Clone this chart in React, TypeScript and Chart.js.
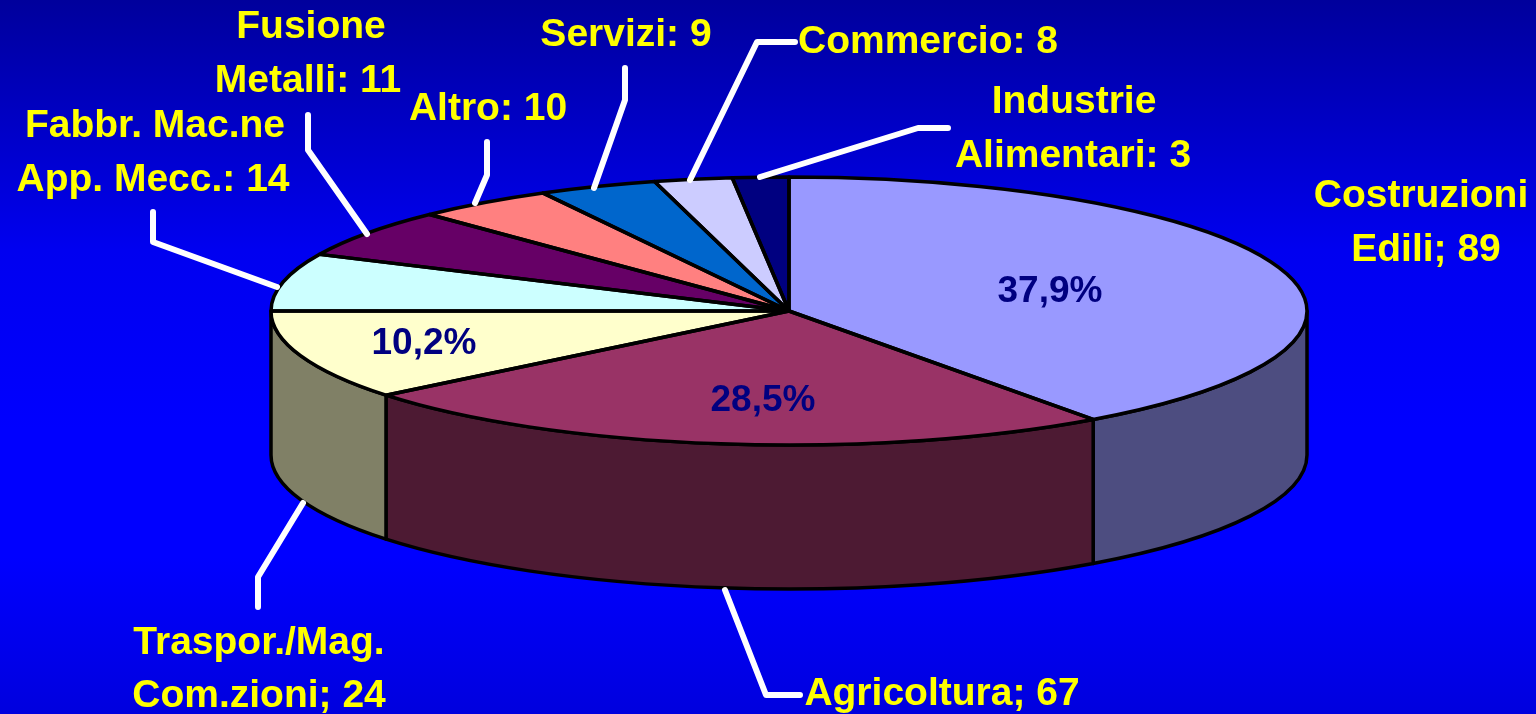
import React, { useEffect, useRef } from "react";
import { Chart, registerables } from "chart.js";

Chart.register(...registerables);

const categories = [
  "Costruzioni Edili",
  "Agricoltura",
  "Traspor./Mag. Com.zioni",
  "Fabbr. Mac.ne App. Mecc.",
  "Fusione Metalli",
  "Altro",
  "Servizi",
  "Commercio",
  "Industrie Alimentari",
];
const values = [89, 67, 24, 14, 11, 10, 9, 8, 3];
const sliceColors = ["#9999FF", "#993366", "#FFFFCC", "#CCFFFF", "#660066", "#FF8080", "#0066CC", "#CCCCFF", "#000080"];
const firstLines = ["Costruzioni", "", "Traspor./Mag.", "Fabbr. Mac.ne", "Fusione", "", "", "", "Industrie"];
const lastLines = ["Edili", "Agricoltura", "Com.zioni", "App. Mecc.", "Metalli", "Altro", "Servizi", "Commercio", "Alimentari"];
const separators = [";", ";", ";", ":", ":", ":", ":", ":", ":"];

// Layout only: where each label sits and how its leader runs.
const labelLayout = [
  { first: [1421, 207], last: [1426, 261] },
  { last: [942, 705] },
  { first: [259, 654], last: [259, 707] },
  { first: [155, 137], last: [153, 191] },
  { first: [311, 38], last: [308, 92] },
  { last: [488, 120] },
  { last: [626, 46] },
  { last: [928, 53] },
  { first: [1074, 113], last: [1073, 167] },
];
const leaderPaths: (number[][] | null)[] = [
  null,
  [[725, 590], [766, 695], [800, 695]],
  [[303, 503], [258, 577], [258, 607]],
  [[277, 287], [153, 242], [153, 212]],
  [[367, 234], [308, 150], [308, 115]],
  [[475, 203], [487, 175], [487, 142]],
  [[594, 188], [625, 100], [625, 68]],
  [[690, 180], [757, 42], [795, 42]],
  [[760, 177], [918, 128], [948, 128]],
];
const percentLayout: Record<number, number[]> = { 0: [1050, 302], 1: [763, 411], 2: [424, 354] };
// Perspective displacement of each slice edge around the rim, in degrees.
const rimShift = [0, 7.7, -7.9, -5.7, -2.2, 2, 2.3, 1.8, -1.7, 0];

const RX = 518;
const RY = 134;
const DEPTH = 144;
const LABEL_FONT = 'bold 39px "Liberation Sans", Arial, sans-serif';
const PERCENT_FONT = 'bold 37px "Liberation Sans", Arial, sans-serif';

const darken = (hex: string) => {
  const n = parseInt(hex.slice(1), 16);
  const c = [(n >> 16) & 255, (n >> 8) & 255, n & 255].map((v) => Math.round(v / 2));
  return `rgb(${c[0]},${c[1]},${c[2]})`;
};

const pie3d = {
  id: "pie3d",
  afterDatasetsUpdate(chart: any) {
    chart.getDatasetMeta(0).data.forEach((el: any, i: number) => {
      const s = el.startAngle + (rimShift[i] * Math.PI) / 180;
      const e = el.endAngle + (rimShift[i + 1] * Math.PI) / 180;
      el.startAngle = s;
      el.endAngle = e;
      el.circumference = e - s;
    });
  },
  beforeDraw(chart: any) {
    const { ctx, width, height } = chart;
    const g = ctx.createLinearGradient(0, 0, 0, height);
    g.addColorStop(0, "#00009C");
    g.addColorStop(0.35, "#0000F0");
    g.addColorStop(0.6, "#0000FF");
    g.addColorStop(0.78, "#0000FF");
    g.addColorStop(1, "#0000DE");
    ctx.fillStyle = g;
    ctx.fillRect(0, 0, width, height);
  },
  beforeDatasetsDraw(chart: any) {
    const { ctx } = chart;
    const arcs = chart.getDatasetMeta(0).data;
    ctx.save();
    ctx.lineWidth = 3.5;
    ctx.strokeStyle = "#000";
    ctx.lineJoin = "round";
    arcs.forEach((el: any, i: number) => {
      const a0 = Math.max(el.startAngle, 0);
      const a1 = Math.min(el.endAngle, Math.PI);
      if (a1 <= a0) return;
      ctx.beginPath();
      ctx.ellipse(el.x, el.y, RX, RY, 0, a0, a1);
      ctx.ellipse(el.x, el.y + DEPTH, RX, RY, 0, a1, a0, true);
      ctx.closePath();
      ctx.fillStyle = darken(sliceColors[i]);
      ctx.fill();
      ctx.stroke();
    });
    ctx.restore();
    const first = arcs[0];
    ctx.save();
    ctx.translate(first.x, first.y);
    ctx.scale(1, RY / RX);
    ctx.translate(-first.x, -first.y);
  },
  afterDatasetsDraw(chart: any) {
    const { ctx } = chart;
    ctx.restore();
    const arcs = chart.getDatasetMeta(0).data;
    const total = values.reduce((a, b) => a + b, 0);
    ctx.save();
    ctx.lineWidth = 3.5;
    ctx.strokeStyle = "#000";
    ctx.lineJoin = "round";
    arcs.forEach((el: any) => {
      ctx.beginPath();
      ctx.moveTo(el.x, el.y);
      ctx.ellipse(el.x, el.y, RX, RY, 0, el.startAngle, el.endAngle);
      ctx.closePath();
      ctx.stroke();
    });

    ctx.strokeStyle = "#FFF";
    ctx.lineWidth = 6;
    ctx.lineCap = "round";
    leaderPaths.forEach((path) => {
      if (!path) return;
      ctx.beginPath();
      path.forEach(([x, y], k) => (k ? ctx.lineTo(x, y) : ctx.moveTo(x, y)));
      ctx.stroke();
    });

    ctx.textAlign = "center";
    ctx.textBaseline = "alphabetic";
    ctx.font = LABEL_FONT;
    ctx.fillStyle = "#FFFF00";
    labelLayout.forEach((l, i) => {
      if (l.first) ctx.fillText(firstLines[i], l.first[0], l.first[1]);
      ctx.fillText(`${lastLines[i]}${separators[i]} ${values[i]}`, l.last[0], l.last[1]);
    });
    ctx.font = PERCENT_FONT;
    ctx.fillStyle = "#000080";
    Object.keys(percentLayout).forEach((k) => {
      const i = Number(k);
      const text = `${((values[i] / total) * 100).toFixed(1).replace(".", ",")}%`;
      ctx.fillText(text, percentLayout[i][0], percentLayout[i][1]);
    });
    ctx.restore();
  },
};

export default function App() {
  const ref = useRef<HTMLCanvasElement>(null);
  useEffect(() => {
    document.body.style.margin = "0";
    document.body.style.overflow = "hidden";
    const chart = new Chart(ref.current as HTMLCanvasElement, {
      type: "pie",
      data: {
        labels: categories,
        datasets: [
          {
            data: values,
            backgroundColor: sliceColors,
            borderWidth: 0,
            clip: false,
          } as any,
        ],
      },
      options: {
        responsive: false,
        animation: false,
        devicePixelRatio: 1,
        radius: RX,
        layout: { padding: { left: 42, bottom: 92 } },
        events: [],
        plugins: { legend: { display: false }, tooltip: { enabled: false } },
      } as any,
      plugins: [pie3d],
    });
    return () => chart.destroy();
  }, []);
  return <canvas ref={ref} width={1536} height={714} style={{ display: "block" }} />;
}
